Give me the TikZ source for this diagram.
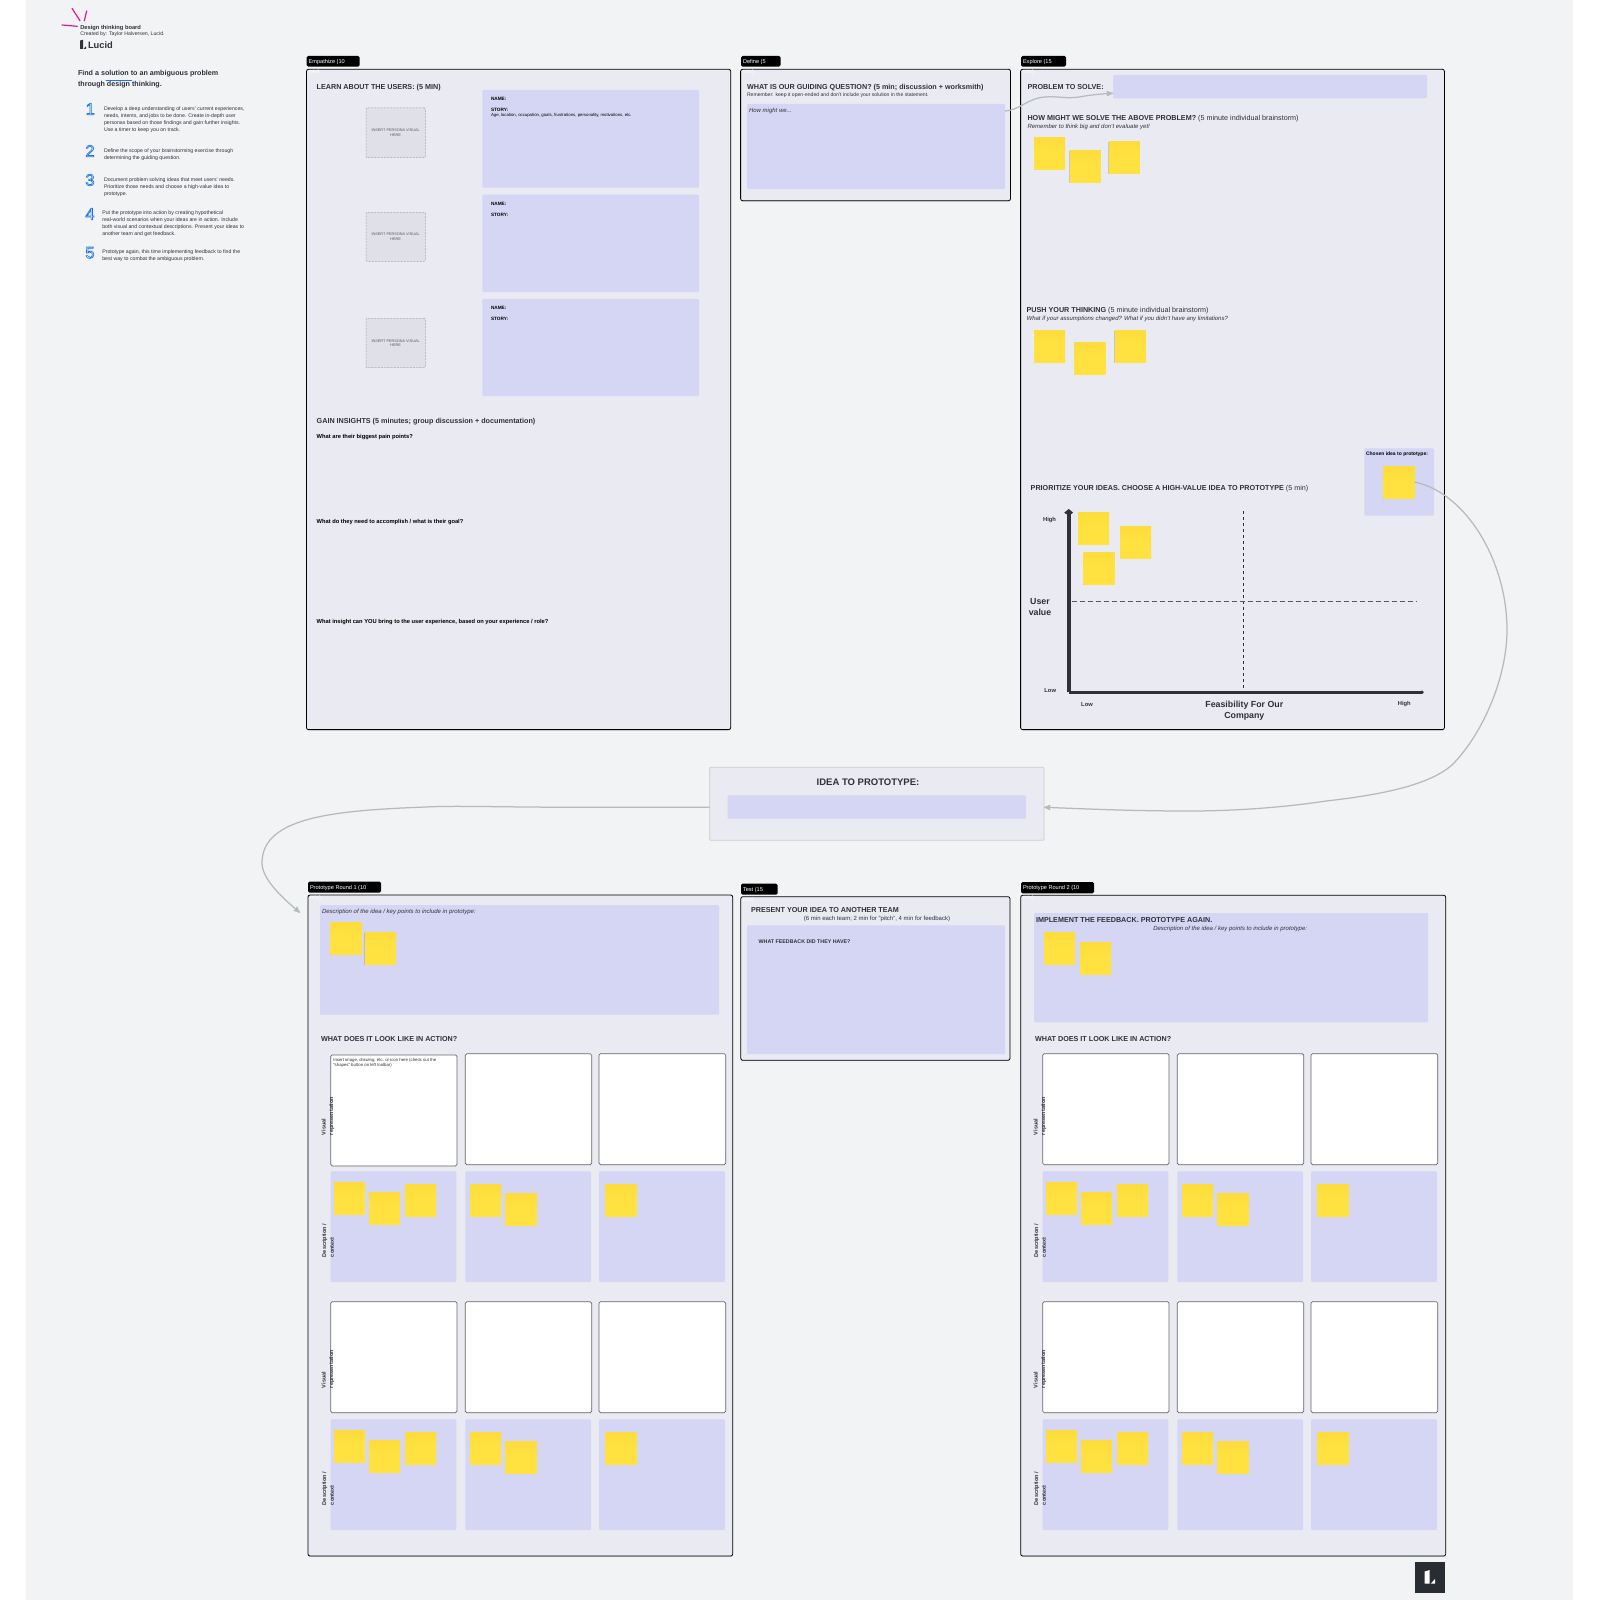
\documentclass[tikz,border=0pt]{standalone}
\usepackage{fontspec}
\setmainfont{Liberation Sans}
\newfontfamily\digitfont[FakeBold=4]{Liberation Sans}
\usepackage{xcolor}
\usetikzlibrary{arrows,shapes,positioning,shadows}

\definecolor{boardbg}{HTML}{F2F3F5}
\definecolor{panelbg}{HTML}{E9EAF2}
\definecolor{lilac}{HTML}{D5D6F4}
\definecolor{notey}{HTML}{FFE23F}
\definecolor{notetop}{HTML}{FDDC3C}
\definecolor{inkdark}{HTML}{2F3138}
\definecolor{flowgray}{HTML}{B4BBBB}
\definecolor{stepblue}{HTML}{1E74E8}
\definecolor{pinkmark}{HTML}{E6139B}
\definecolor{logodark}{HTML}{282C33}

\tikzset{
	base node/.style={inner sep=0pt,outer sep=0pt},
	panel node/.style={base node,draw=black,line width=0.8pt,rounded corners=2pt,fill=panelbg,drop shadow={shadow xshift=0pt,shadow yshift=-0.8pt,opacity=0.35}},
	idea node/.style={base node,draw=black!20,line width=0.7pt,rounded corners=1pt,fill=panelbg},
	lilac node/.style={base node,fill=lilac,rounded corners=1pt},
	visual node/.style={base node,draw=black!35,dash pattern=on 2pt off 1.2pt,line width=0.5pt,fill=black!4!panelbg,rounded corners=1pt},
	white node/.style={base node,draw=black!60,line width=0.7pt,fill=white,rounded corners=1.5pt},
	tag node/.style={base node,fill=black,rounded corners=1.5pt},
	sticky/.style={base node,anchor=north west,minimum width=31pt,minimum height=32pt,top color=notetop,bottom color=notey,middle color=notey,drop shadow={shadow xshift=-0.4pt,shadow yshift=-0.9pt,opacity=0.35}},
	tag text/.style={base node,anchor=west,text=white,yshift=-0.8pt,font=\fontsize{5.6}{6.4}\selectfont},
	head text/.style={base node,anchor=west,text=inkdark,font=\fontsize{7.2}{8.4}\selectfont\bfseries},
	sub text/.style={base node,anchor=west,text=inkdark,yshift=-0.7pt,font=\fontsize{5.1}{6}\selectfont},
	note text/.style={base node,anchor=west,text=inkdark,yshift=-1pt,font=\fontsize{6}{7.2}\selectfont\itshape},
	small bold/.style={base node,anchor=west,text=black,yshift=-0.5pt,font=\fontsize{5.75}{6.8}\selectfont\bfseries},
	label bold/.style={base node,anchor=west,text=black,yshift=-0.7pt,font=\fontsize{4.7}{5.6}\selectfont\bfseries},
	step text/.style={base node,anchor=west,align=left,text=inkdark,yshift=-1pt,font=\fontsize{5.2}{6.9}\selectfont},
	step num/.style={base node,font=\fontsize{16.5}{18}\selectfont},
	axis text/.style={base node,text=inkdark,yshift=-0.5pt,font=\fontsize{5.8}{7}\selectfont\bfseries},
	axis title/.style={base node,align=center,text=inkdark,yshift=-0.6pt,font=\fontsize{8.8}{10.8}\selectfont\bfseries},
	side text/.style={base node,anchor=west,rotate=90,align=left,text=inkdark,font=\fontsize{5.5}{7.6}\selectfont\bfseries},
	flow line/.style={->,>=stealth',draw=flowgray,line width=1.25pt},
}

% box from its two corners
\newcommand{\card}[6]{\node[#1,anchor=north west,minimum width={((#5)-(#3))*1pt},minimum height={((#6)-(#4))*1pt}] (#2) at ({#3},{#4}) {};}
% black label on top of a panel
\newcommand{\tagbox}[6]{\card{tag node}{#1}{#2}{#3}{#4}{#5}
	\node[tag text] (#1text) at ([xshift=2pt]#1.west) {#6};
	\node[tag text,anchor=north west] (#1rest) at ([xshift=2pt,yshift=-1.5pt]#1.south west) {min)};}
% digit drawn by outline only
\newcommand{\outlined}[1]{{\digitfont\special{pdf:bcolor [0.949 0.953 0.961] [0.118 0.455 0.91]}#1\special{pdf:ecolor}}}

\begin{document}
\begin{tikzpicture}[x=1pt,y=-1pt]
	\fill[white,use as bounding box] (0,0) rectangle (1600,1600);
	\fill[boardbg] (26,0) rectangle (1573,1600);

	% intro column
	\draw[pinkmark,line width=1.2pt,line cap=round] (72,8.3) -- (80,20.7) (86.7,11) -- (84.3,20.7) (62,25) -- (77.3,26.3);
	\node[small bold,text=inkdark,yshift=-0.7pt] (boardname) at (80.3,27.3) {Design thinking board};
	\node[sub text,font=\fontsize{5.2}{6}\selectfont] (boardby) at (80.3,33.7) {Created by: Taylor Halversen, Lucid.};
	\fill[inkdark] (80.2,40.5) -- (83,39.8) -- (83,49) -- (80.2,49) -- cycle (83.6,49) -- (86.2,46) -- (86.2,49) -- cycle;
	\node[base node,anchor=west,text=inkdark,font=\fontsize{9.3}{12}\selectfont\bfseries] (lucidword) at (88,44.7) {Lucid};
	\node[base node,anchor=north west,align=left,text=inkdark,font=\fontsize{7.15}{10.3}\selectfont\bfseries] (introhead) at (78,70.8) {Find a solution to an ambiguous problem\\through design thinking.};
	\draw[stepblue,line width=0.9pt,line cap=round] (106,80.3) -- (131.7,80.3);

	\node[step num] (num1) at (90.3,109) {\outlined{1}};
	\node[step num] (num2) at (90,151) {\outlined{2}};
	\node[step num] (num3) at (90,180) {\outlined{3}};
	\node[step num] (num4) at (90,214) {\outlined{4}};
	\node[step num] (num5) at (90,252.7) {\outlined{5}};
	\node[step text] (step1) at (104,119) {Develop a deep understanding of users' current experiences,\\needs, intents, and jobs to be done. Create in-depth user\\personas based on those findings and gain further insights.\\Use a timer to keep you on track.};
	\node[step text] (step2) at (104,153.8) {Define the scope of your brainstorming exercise through\\determining the guiding question.};
	\node[step text] (step3) at (104,186.5) {Document problem solving ideas that meet users' needs.\\Prioritize those needs and choose a high-value idea to\\prototype.};
	\node[step text] (step4) at (102.3,222.7) {Put the prototype into action by creating hypothetical\\real-world scenarios when your ideas are in action. Include\\both visual and contextual descriptions. Present your ideas to\\another team and get feedback.};
	\node[step text] (step5) at (102.3,254.5) {Prototype again, this time implementing feedback to find the\\best way to combat the ambiguous problem.};

	% empathize
	\card{panel node}{empathize}{306.5}{69.3}{730.7}{729.6}
	\tagbox{empathizetag}{306.7}{56}{359.7}{66.7}{Empathize (10}
	\node[head text] (learnhead) at (316.7,87.6) {LEARN ABOUT THE USERS: (5 MIN)};
	\foreach \ya/\yb/\va/\vb/\n in {90/187.7/108/157.7/1,194.7/292/212.3/261.3/2,299/396/318.3/367.7/3}{
		\card{lilac node}{persona\n}{482.3}{\ya}{699}{\yb}
		\card{visual node}{visual\n}{366}{\va}{425.3}{\vb}
		\node[base node,align=center,text=black!65,font=\fontsize{3.8}{4.4}\selectfont] (visualtext\n) at (visual\n) {INSERT PERSONA VISUAL\\HERE};
		\node[label bold] (name\n) at (491,\ya+8) {NAME:};
		\node[label bold] (story\n) at (491,\ya+19.5) {STORY:};
	}
	\node[sub text,text=black,font=\fontsize{4.3}{5}\selectfont] (storyhint) at (491,115) {Age, location, occupation, goals, frustrations, personality, motivations, etc.};
	\node[head text] (gainhead) at (316.7,421.6) {GAIN INSIGHTS (5 minutes; group discussion + documentation)};
	\node[small bold] (painq) at (316.7,436.7) {What are their biggest pain points?};
	\node[small bold] (goalq) at (316.7,521.7) {What do they need to accomplish / what is their goal?};
	\node[small bold] (youq) at (316.7,622) {What insight can YOU bring to the user experience, based on your experience / role?};

	% define
	\card{panel node}{define}{740.6}{69.3}{1010.5}{200.7}
	\tagbox{definetag}{741}{56}{780.5}{66.7}{Define (5}
	\node[head text] (guidehead) at (747,87.3) {WHAT IS OUR GUIDING QUESTION? (5 min; discussion + worksmith)};
	\node[sub text] (guidesub) at (747,94.3) {Remember: keep it open-ended and don't include your solution in the statement.};
	\card{lilac node}{guidebox}{747}{104}{1005}{189}
	\node[note text] (howmight) at (749,109.7) {How might we...};

	% explore
	\card{panel node}{explore}{1020.6}{69.3}{1444.4}{729.6}
	\tagbox{exploretag}{1021}{56}{1066}{66.7}{Explore (15}
	\node[head text] (problemhead) at (1027.5,86.6) {PROBLEM TO SOLVE:};
	\card{lilac node}{problembox}{1113}{75}{1427}{98.3}
	\node[head text] (solvehead) at (1027.5,118.6) {HOW MIGHT WE SOLVE THE ABOVE PROBLEM? {\mdseries (5 minute individual brainstorm)}};
	\node[note text] (solvesub) at (1027.5,126.3) {Remember to think big and don't evaluate yet!};
	\node[head text] (pushhead) at (1026.6,311) {PUSH YOUR THINKING {\mdseries (5 minute individual brainstorm)}};
	\node[note text] (pushsub) at (1026.6,318.3) {What if your assumptions changed? What if you didn't have any limitations?};
	\foreach \sx/\sy [count=\i] in {1034/137.3,1069.8/150,1108.8/141,1034/330,1074.4/342,1114.8/330,1078/512,1120/526,1083.7/552}
		\node[sticky] (idea\i) at (\sx,\sy) {};
	\card{lilac node}{chosenbox}{1364.3}{448.3}{1434}{515.7}
	\node[label bold,anchor=center,font=\fontsize{5}{6}\selectfont\bfseries] (chosentext) at (1397,453.7) {Chosen idea to prototype:};
	\node[sticky] (chosen) at (1383.3,466) {};
	\node[head text] (priorityhead) at (1030.7,488.3) {PRIORITIZE YOUR IDEAS. CHOOSE A HIGH-VALUE IDEA TO PROTOTYPE {\mdseries (5 min)}};

	\coordinate (top) at (1068.7,509);
	\coordinate (origin) at (1068.7,692.3);
	\coordinate (right) at (1422,692.3);
	\draw[inkdark,dashed,line width=0.6pt] (1243.3,511) -- (1243.3,692);
	\draw[inkdark!80,dashed,line width=0.6pt,dash pattern=on 5pt off 3pt] (1071.7,601.3) -- (1416,601.3);
	\draw[inkdark,line width=4.2pt] (origin) -- ([yshift=-3pt]top);
	\fill[inkdark] (top) -- ++(4.4,3.6) -- ++(-2,1.6) -- ++(-4.8,0) -- ++(-2,-1.6) -- cycle;
	\draw[inkdark,line width=2.6pt] (origin) -- (right);
	\fill[inkdark] (right) circle (1.9pt);
	\node[axis text,anchor=east] (yhigh) at (1056,519.7) {High};
	\node[axis text,anchor=east] (ylow) at (1056,690) {Low};
	\node[axis text] (xlow) at (1087,703.7) {Low};
	\node[axis text] (xhigh) at (1404.3,703.7) {High};
	\node[axis title] (ytitle) at (1040,606.6) {User\\value};
	\node[axis title] (xtitle) at (1244.3,710.5) {Feasibility For Our\\Company};

	% idea to prototype
	\card{idea node}{ideapanel}{709.7}{767.3}{1044}{840.3}
	\node[head text,anchor=center,font=\fontsize{9.5}{11}\selectfont\bfseries] (ideahead) at (868,782.7) {IDEA TO PROTOTYPE:};
	\card{lilac node}{ideabox}{727.6}{795.3}{1026}{818.7}

	% test
	\card{panel node}{test}{740.8}{896.7}{1010}{1060.3}
	\tagbox{testtag}{741}{883.7}{777.6}{894.7}{Test (15}
	\node[head text] (presenthead) at (751,910.3) {PRESENT YOUR IDEA TO ANOTHER TEAM};
	\node[sub text,anchor=center,font=\fontsize{6}{7}\selectfont] (presentsub) at (877,918) {(6 min each team; 2 min for "pitch", 4 min for feedback)};
	\card{lilac node}{feedbackbox}{747}{925.3}{1005}{1054}
	\node[label bold,text=inkdark,font=\fontsize{5.3}{6}\selectfont\bfseries] (feedbackq) at (758.7,941) {WHAT FEEDBACK DID THEY HAVE?};

	% prototype rounds
	\card{panel node}{rounda}{308}{895}{732.7}{1556}
	\tagbox{roundatag}{308}{881.7}{381}{892.7}{Prototype Round 1 (10}
	\card{lilac node}{describea}{320}{905}{719}{1014.7}
	\node[note text] (describeatext) at (322,911.3) {Description of the idea / key points to include in prototype:};
	\node[sticky] (describeanote1) at (330.6,922) {};
	\node[sticky] (describeanote2) at (364.8,932) {};
	\node[head text] (actiona) at (321,1039) {WHAT DOES IT LOOK LIKE IN ACTION?};

	\card{panel node}{roundb}{1020.7}{895.3}{1445.7}{1556}
	\tagbox{roundbtag}{1021}{882}{1094}{893.3}{Prototype Round 2 (10}
	\card{lilac node}{describeb}{1034}{913}{1428}{1022.3}
	\node[head text] (implementb) at (1036,920.3) {IMPLEMENT THE FEEDBACK. PROTOTYPE AGAIN.};
	\node[note text] (describebtext) at (1153.3,927.7) {Description of the idea / key points to include in prototype:};
	\node[sticky] (describebnote1) at (1044,932) {};
	\node[sticky] (describebnote2) at (1080,942) {};
	\node[head text] (actionb) at (1035,1039.3) {WHAT DOES IT LOOK LIKE IN ACTION?};

	\foreach \dx/\r in {0/a,712/b}{
		\begin{scope}[shift={(\dx,0)}]
			\foreach \dy/\k/\vy in {0/1/1135,248/2/1388}{
				\begin{scope}[shift={(0,\dy)}]
					\foreach \xa/\xb/\c in {330.7/457/1,465.3/591.7/2,599/725.7/3}{
						% first box of the first round sits a little lower
						\pgfmathsetmacro{\wy}{(\dx==0 && \dy==0 && \c==1) ? 1.2 : 0}
						\card{white node}{view\r\k\c}{\xa}{1053.7+\wy}{\xb}{1164.7+\wy}
						\card{lilac node}{text\r\k\c}{\xa}{1171.3}{\xb-0.7}{1282}
					}
					\foreach \sx/\sy [count=\i] in {334/1182,369/1192,405/1184,470/1184,505.3/1193.3,605.3/1184}
						\node[sticky] (note\r\k\i) at (\sx,\sy) {};
					\node[side text] (contextlabel\r\k) at (328,1257) {Description /\\context};
				\end{scope}
				\node[side text] (viewlabel\r\k) at (328,\vy) {Visual\\representation};
			}
		\end{scope}
	}
	\node[base node,anchor=north west,align=left,text=inkdark,font=\fontsize{4.3}{4.9}\selectfont] (inserthint) at (333.3,1058) {Insert image, drawing, etc. or icon here (check out the\\"shapes" button on left toolbar)};

	% connectors
	\draw[flow line] ([yshift=-7pt]guidebox.north east) .. controls (1020,110) and (1028,98) .. (1045,97) .. controls (1060,96) and (1065,99) .. (1079,97) .. controls (1090,95) and (1100,94) .. ([yshift=-6.6pt]problembox.west);
	\draw[flow line] (chosen.east) .. controls (1465,492) and (1507,560) .. (1507,630) .. controls (1507,675) and (1485,730) .. (1454,763) .. controls (1432,785) and (1380,795) .. (1326,801) .. controls (1280,808) and (1230,811) .. (1190,811) .. controls (1130,811) and (1090,809) .. ([yshift=-3.5pt]ideapanel.east);
	\coordinate (roundain) at (300,912.7);
	\draw[flow line] ([yshift=-3.5pt]ideapanel.west) -- (571,807.3) .. controls (500,807) and (470,806) .. (439,806.5) .. controls (340,810) and (262,815) .. (262,863) .. controls (262,880) and (285,900) .. (roundain);

	% corner mark
	\node[base node,anchor=north west,fill=logodark,minimum width=30.3pt,minimum height=30.4pt] (cornermark) at (1414.7,1562.3) {};
	\fill[white] (1424.7,1571.5) -- (1429.7,1570) -- (1429.7,1583.7) -- (1424.7,1583.7) -- cycle (1430.7,1583.7) -- (1435,1579) -- (1435,1583.7) -- cycle;
\end{tikzpicture}
\end{document}
